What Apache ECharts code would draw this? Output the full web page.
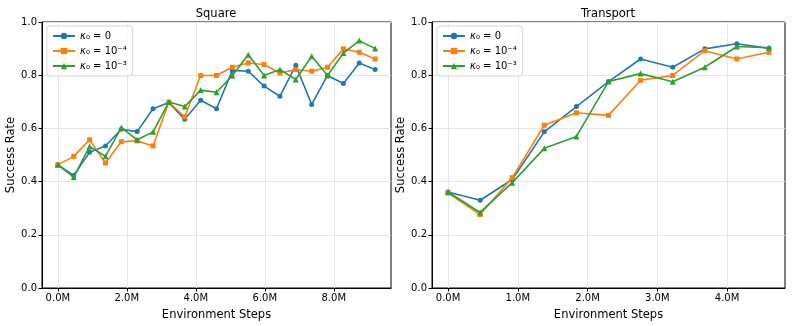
<!DOCTYPE html>
<html>
<head>
<meta charset="utf-8">
<script src="https://cdn.jsdelivr.net/npm/echarts@6/dist/echarts.min.js"></script>
<style>
  html, body { margin: 0; padding: 0; background: #fff; }
  #chart { width: 792px; height: 326px; }
</style>
</head>
<body>
<div id="chart"></div>
<script>
  // steps in millions
  var squareSteps = [0, 0.46, 0.92, 1.38, 1.84, 2.30, 2.76, 3.22, 3.68, 4.14, 4.60, 5.06, 5.52, 5.98, 6.44, 6.90, 7.36, 7.82, 8.28, 8.74, 9.20];
  var squareK0 = [0.463, 0.423, 0.510, 0.534, 0.597, 0.588, 0.674, 0.697, 0.634, 0.706, 0.674, 0.818, 0.815, 0.759, 0.721, 0.837, 0.690, 0.799, 0.769, 0.846, 0.821];
  var squareK4 = [0.463, 0.495, 0.557, 0.470, 0.550, 0.553, 0.534, 0.699, 0.643, 0.799, 0.799, 0.830, 0.846, 0.840, 0.808, 0.821, 0.815, 0.830, 0.899, 0.886, 0.861];
  var squareK3 = [0.463, 0.417, 0.532, 0.495, 0.603, 0.557, 0.587, 0.699, 0.682, 0.744, 0.736, 0.799, 0.877, 0.799, 0.821, 0.784, 0.871, 0.799, 0.883, 0.930, 0.900];

  var transportSteps = [0, 0.46, 0.92, 1.38, 1.84, 2.30, 2.76, 3.22, 3.68, 4.14, 4.60];
  var transportK0 = [0.361, 0.330, 0.408, 0.587, 0.682, 0.776, 0.861, 0.830, 0.899, 0.918, 0.901];
  var transportK4 = [0.357, 0.276, 0.415, 0.612, 0.659, 0.649, 0.781, 0.799, 0.892, 0.861, 0.886];
  var transportK3 = [0.361, 0.284, 0.396, 0.525, 0.570, 0.776, 0.806, 0.775, 0.830, 0.908, 0.903];

  var squareXTicks = [0, 2, 4, 6, 8];
  var transportXTicks = [0, 1, 2, 3, 4];

  var names = ['k0', 'k4', 'k3'];
  var labels = {k0: '{i|κ}₀ = 0', k4: '{i|κ}₀ = 10⁻⁴', k3: '{i|κ}₀ = 10⁻³'};
  var colors = ['#1f77b4', '#ff7f0e', '#2ca02c'];
  var symbols = ['circle', 'rect', 'triangle'];
  var symbolSizes = [5, 5, 6];

  var font = 'DejaVu Sans';

  function pairs(xs, ys) {
    return xs.map(function (x, i) { return [x, ys[i]]; });
  }

  function makeSeries(idx, xs, ys) {
    return names.map(function (n, k) {
      return {
        name: n,
        type: 'line',
        xAxisIndex: idx,
        yAxisIndex: idx,
        data: pairs(xs, ys[k]),
        symbol: symbols[k],
        symbolSize: symbolSizes[k],
        showSymbol: true,
        lineStyle: {width: 1.6, color: colors[k]},
        itemStyle: {color: colors[k]},
        z: 3 + k,
        animation: false
      };
    });
  }

  function xAxis(idx, min, max, ticks) {
    return {
      type: 'value',
      gridIndex: idx,
      min: min,
      max: max,
      name: 'Environment Steps',
      nameLocation: 'middle',
      nameGap: 21,
      nameTextStyle: {fontFamily: font, fontSize: 11.5, color: '#000'},
      axisLine: {show: true, onZero: false, lineStyle: {color: '#000', width: 1}},
      axisTick: {show: true, length: 3.5, lineStyle: {color: '#000'}, customValues: ticks},
      axisLabel: {
        fontFamily: font, fontSize: 10, color: '#000', margin: 5,
        customValues: ticks,
        formatter: function (v) { return v.toFixed(1) + 'M'; }
      },
      splitLine: {show: true, lineStyle: {color: '#e6e6e6', width: 1}}
    };
  }

  function yAxis(idx) {
    return {
      type: 'value',
      gridIndex: idx,
      min: 0,
      max: 1,
      interval: 0.2,
      name: 'Success Rate',
      nameLocation: 'middle',
      nameGap: 24,
      nameTextStyle: {fontFamily: font, fontSize: 11.5, color: '#000'},
      axisLine: {show: true, onZero: false, lineStyle: {color: '#000', width: 1}},
      axisTick: {show: true, length: 3.5, lineStyle: {color: '#000'}},
      axisLabel: {
        fontFamily: font, fontSize: 10, color: '#000', margin: 5,
        formatter: function (v) { return v.toFixed(1); }
      },
      splitLine: {show: true, lineStyle: {color: '#e6e6e6', width: 1}}
    };
  }

  function legend(left) {
    return {
      data: names,
      left: left,
      top: 26,
      orient: 'vertical',
      itemWidth: 22,
      itemHeight: 8,
      itemGap: 5,
      padding: [5, 6, 5, 5],
      backgroundColor: 'rgba(255,255,255,0.8)',
      borderColor: '#d6d6d6',
      borderWidth: 1,
      borderRadius: 3,
      selectedMode: false,
      formatter: function (n) { return labels[n]; },
      textStyle: {
        fontFamily: font, fontSize: 10, color: '#000',
        rich: {i: {fontFamily: font, fontStyle: 'italic', fontSize: 10, color: '#000'}}
      }
    };
  }

  var chart = echarts.init(document.getElementById('chart'), null, {renderer: 'canvas'});
  var option = {
    animation: false,
    backgroundColor: '#fff',
    title: [
      {text: 'Square', left: 211, top: 3, textAlign: 'center',
       textStyle: {fontFamily: font, fontSize: 11.5, fontWeight: 'normal', color: '#000'}},
      {text: 'Transport', left: 603, top: 3, textAlign: 'center',
       textStyle: {fontFamily: font, fontSize: 11.5, fontWeight: 'normal', color: '#000'}}
    ],
    legend: [legend(47), legend(437)],
    grid: [
      {left: 42, right: 401, top: 22, bottom: 36, show: true, borderColor: '#000', borderWidth: 1},
      {left: 432, right: 7, top: 22, bottom: 36, show: true, borderColor: '#000', borderWidth: 1}
    ],
    xAxis: [
      xAxis(0, -0.46, 9.66, squareXTicks),
      xAxis(1, -0.23, 4.83, transportXTicks)
    ],
    yAxis: [yAxis(0), yAxis(1)],
    series: makeSeries(0, squareSteps, [squareK0, squareK4, squareK3])
      .concat(makeSeries(1, transportSteps, [transportK0, transportK4, transportK3]))
  };
  chart.setOption(option);
</script>
</body>
</html>
